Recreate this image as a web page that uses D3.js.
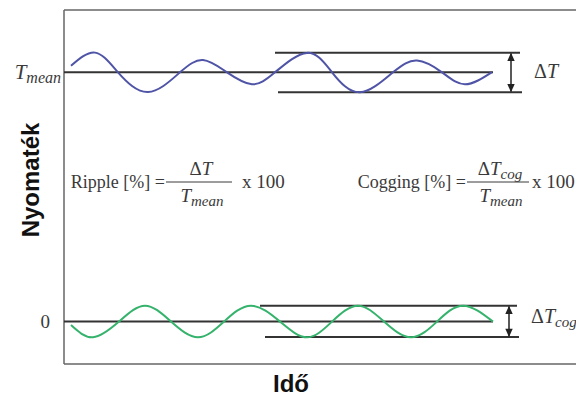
<!DOCTYPE html>
<html>
<head>
<meta charset="utf-8">
<script src="https://cdn.jsdelivr.net/npm/d3@7"></script>
<style>
  html, body { margin: 0; padding: 0; background: #fff; }
  svg { display: block; }
  .serif { font-family: "Liberation Serif", "DejaVu Serif", serif; fill: #3a3a3a; }
  .title { font-family: "Liberation Sans", Arial, sans-serif; font-weight: bold; fill: #111; }
</style>
</head>
<body>
<svg id="chart" width="576" height="396"></svg>
<script>
// ---- Data ----
// Torque ripple curve (blue): time vs torque (Tmean = 100)
const rippleTime   = [7, 31, 54, 84, 116, 139, 163, 188, 211, 243, 268, 296, 329, 353, 378, 401, 428];
const rippleTorque = [102.6, 107.9, 100, 92.1, 100, 104.9, 100, 95.2, 100, 107.8, 100, 92, 100, 104.7, 100, 95.2, 100.1];
// Cogging torque curve (green): time vs torque (around 0)
const coggingTime   = [7, 29, 55, 81, 107, 134, 160, 187, 216, 243, 268, 294, 320, 347, 373, 399, 429];
const coggingTorque = [-1.4, -6.3, 0, 6.4, 0, -6.3, 0, 6.4, 0, -6.3, 0, 6.4, 0, -6.3, 0, 6.4, 0];
// Reference levels
const levels = { tMean: 100, rippleMax: 107.9, rippleMin: 92, zero: 0, cogMax: 6.4, cogMin: -6.2 };
const yTickLabels = ["T", "0"];

// ---- Layout ----
const svg = d3.select("#chart");
const x = d3.scaleLinear().domain([0, 512]).range([64, 576]);
const y = d3.scaleLinear().domain([-17, 125]).range([364, 10]);

// arrow marker
const defs = svg.append("defs");
["start", "end"].forEach(k => {
  defs.append("marker")
    .attr("id", "arrow-" + k)
    .attr("viewBox", "0 0 10 10")
    .attr("refX", 9).attr("refY", 5)
    .attr("markerWidth", 6).attr("markerHeight", 5.5)
    .attr("markerUnits", "strokeWidth")
    .attr("orient", k === "start" ? "auto-start-reverse" : "auto")
    .append("path").attr("d", "M0,0.5 L10,5 L0,9.5 Z").attr("fill", "#222");
});

// frame
const frameColor = "#666";
svg.append("line").attr("x1", x(0)).attr("x2", x(512)).attr("y1", y(125)).attr("y2", y(125))
  .attr("stroke", frameColor).attr("stroke-width", 1.5);
svg.append("line").attr("x1", x(0)).attr("x2", x(0)).attr("y1", y(125)).attr("y2", y(-17))
  .attr("stroke", frameColor).attr("stroke-width", 1.5);
svg.append("line").attr("x1", x(0)).attr("x2", x(512)).attr("y1", y(-17)).attr("y2", y(-17))
  .attr("stroke", frameColor).attr("stroke-width", 1.5);

const refColor = "#333";
function hline(t0, t1, v) {
  svg.append("line").attr("x1", x(t0)).attr("x2", x(t1)).attr("y1", y(v)).attr("y2", y(v))
    .attr("stroke", refColor).attr("stroke-width", 2);
}
// mean / zero lines
hline(0, 429, levels.tMean);
hline(0, 429, levels.zero);
// ripple band
hline(211, 456, levels.rippleMax);
hline(214, 458, levels.rippleMin);
// cogging band
hline(196, 453, levels.cogMax);
hline(201, 455, levels.cogMin);

function varrow(t, v0, v1) {
  svg.append("line").attr("x1", x(t)).attr("x2", x(t)).attr("y1", y(v0)).attr("y2", y(v1))
    .attr("stroke", "#222").attr("stroke-width", 1.5)
    .attr("marker-start", "url(#arrow-start)").attr("marker-end", "url(#arrow-end)");
}
varrow(447, levels.rippleMax - 0.35, levels.rippleMin + 0.35);
varrow(445, levels.cogMax - 0.35, levels.cogMin + 0.35);

// curves
const line = d3.line().curve(d3.curveNatural);
svg.append("path")
  .attr("d", line(rippleTime.map((t, i) => [x(t), y(rippleTorque[i])])))
  .attr("fill", "none").attr("stroke", "#4f54a6").attr("stroke-width", 2);
svg.append("path")
  .attr("d", line(coggingTime.map((t, i) => [x(t), y(coggingTorque[i])])))
  .attr("fill", "none").attr("stroke", "#35b36c").attr("stroke-width", 2);

// y labels
const tl = svg.append("text").attr("class", "serif").attr("x", 61).attr("y", y(levels.tMean) + 7)
  .attr("text-anchor", "end");
tl.append("tspan").attr("font-style", "italic").attr("font-size", 21).text(yTickLabels[0]);
tl.append("tspan").attr("font-style", "italic").attr("font-size", 16).attr("dy", 4).text("mean");
svg.append("text").attr("class", "serif").attr("x", 50).attr("y", y(levels.zero) + 6.5)
  .attr("text-anchor", "end").attr("font-size", 19).text(yTickLabels[1]);

// delta labels
const dT = svg.append("text").attr("class", "serif").attr("x", 534).attr("y", 78).attr("font-size", 20);
dT.append("tspan").text("Δ");
dT.append("tspan").attr("font-style", "italic").text("T");
const dTc = svg.append("text").attr("class", "serif").attr("x", 531).attr("y", 323).attr("font-size", 20);
dTc.append("tspan").text("Δ");
dTc.append("tspan").attr("font-style", "italic").text("T");
dTc.append("tspan").attr("font-style", "italic").attr("font-size", 15).attr("dy", 4).text("cog");

// formulas
function formula(label, barX0, barX1, numSub, xText) {
  const base = 188, fs = 18;
  svg.append("text").attr("class", "serif").attr("x", barX0 - 1).attr("y", base)
    .attr("text-anchor", "end").attr("font-size", fs).text(label);
  svg.append("line").attr("x1", barX0).attr("x2", barX1).attr("y1", 182).attr("y2", 182)
    .attr("stroke", "#3a3a3a").attr("stroke-width", 1);
  const cx = (barX0 + barX1) / 2;
  const num = svg.append("text").attr("class", "serif").attr("x", cx + 2).attr("y", 175)
    .attr("text-anchor", "middle").attr("font-size", 19);
  num.append("tspan").text("Δ");
  num.append("tspan").attr("font-style", "italic").text("T");
  if (numSub) num.append("tspan").attr("font-style", "italic").attr("font-size", 15).attr("dy", 4).text(numSub);
  const den = svg.append("text").attr("class", "serif").attr("x", cx + 3).attr("y", 202)
    .attr("text-anchor", "middle").attr("font-size", 19);
  den.append("tspan").attr("font-style", "italic").text("T");
  den.append("tspan").attr("font-style", "italic").attr("font-size", 15).attr("dy", 4).text("mean");
  svg.append("text").attr("class", "serif").attr("x", xText).attr("y", base).attr("font-size", 19).text("x 100");
}
formula("Ripple [%] =", 166, 232, null, 242);
formula("Cogging [%] =", 467, 529, "cog", 532);

// axis titles
svg.append("text").attr("class", "title").attr("font-size", 24)
  .attr("transform", `translate(39,${180}) rotate(-90)`)
  .attr("text-anchor", "middle").text("Nyomaték");
svg.append("text").attr("class", "title").attr("font-size", 24)
  .attr("x", 291).attr("y", 392).attr("text-anchor", "middle").text("Idő");
</script>
</body>
</html>
